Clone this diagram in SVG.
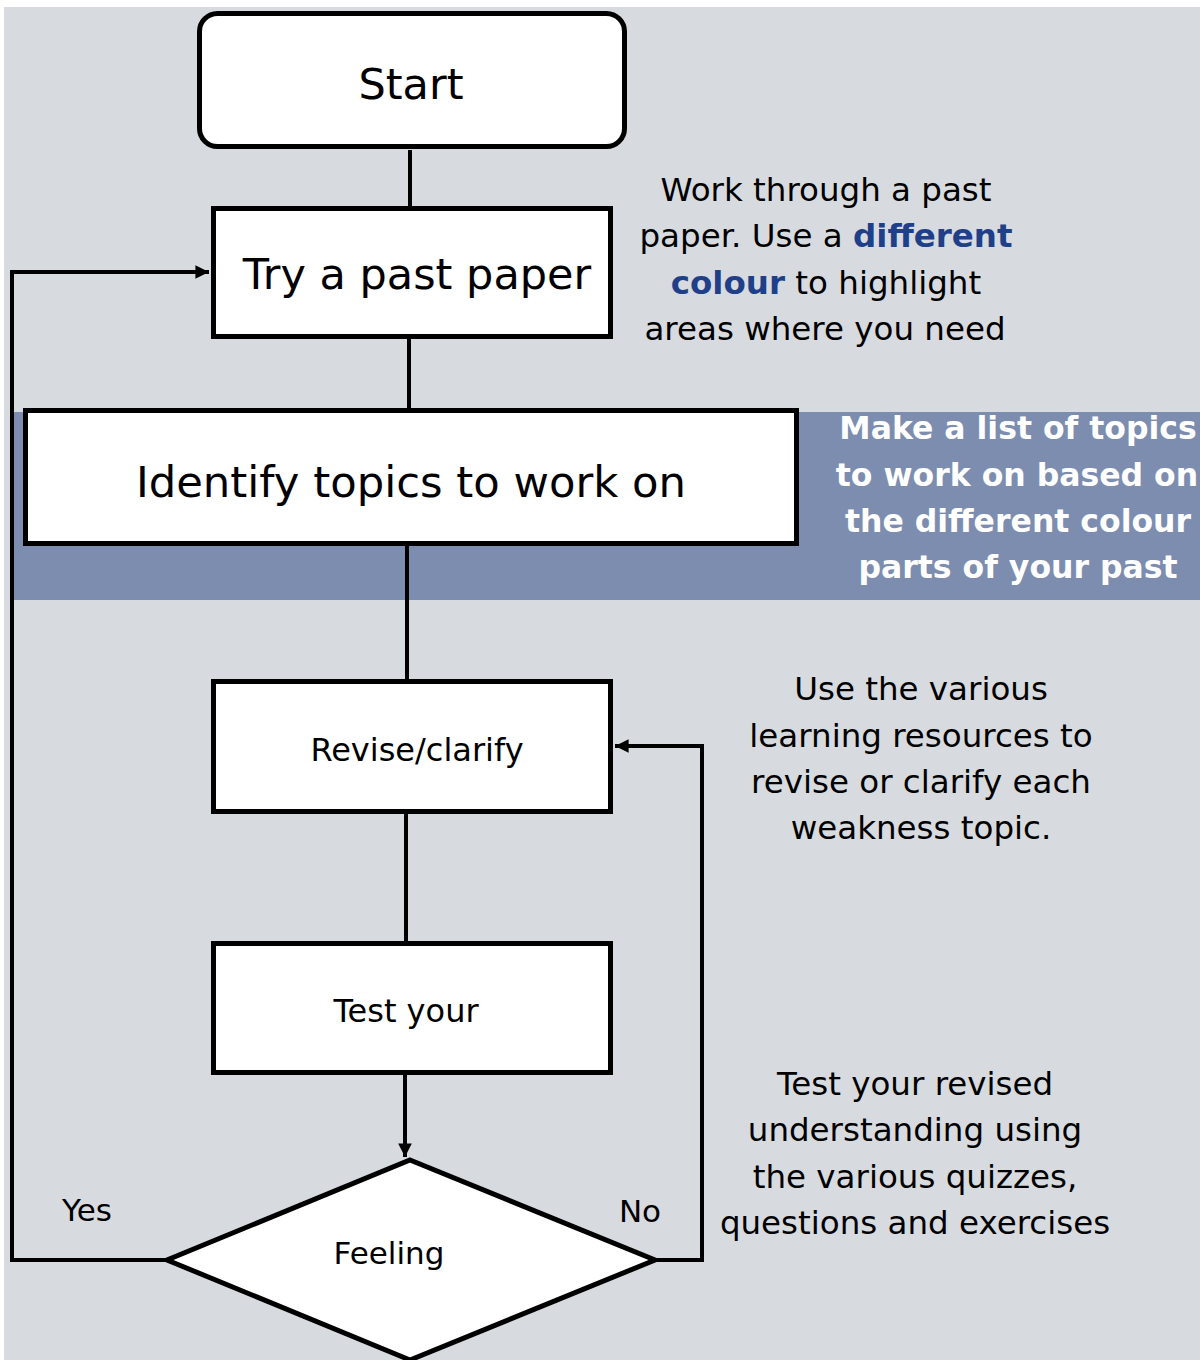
<svg xmlns="http://www.w3.org/2000/svg" width="1200" height="1360" viewBox="0 0 1200 1360">
<defs>
<style>
.box{fill:#ffffff;stroke:#000000;stroke-width:5}
.con{fill:none;stroke:#000000;stroke-width:4}
.t{font-family:"DejaVu Sans","Liberation Sans",sans-serif;fill:#000000;text-anchor:middle}
.note{font-family:"DejaVu Sans","Liberation Sans",sans-serif;font-size:32.5px;fill:#000000;text-anchor:middle}
.band{font-family:"DejaVu Sans","Liberation Sans",sans-serif;font-size:31.5px;font-weight:bold;fill:#ffffff;text-anchor:middle}
.hl{font-weight:bold;fill:#1f3f88}
</style>
<marker id="arr" viewBox="0 0 10 10" refX="10" refY="5" markerWidth="4" markerHeight="3.4" markerUnits="strokeWidth" orient="auto">
<path d="M0,0 L10,5 L0,10 Z" fill="#000000"/>
</marker>
</defs>
<rect x="0" y="0" width="1200" height="1360" fill="#ffffff"/>
<rect x="4" y="7" width="1196" height="1353" fill="#d7dbdf"/>
<rect x="14" y="412" width="1186" height="188" fill="#7d8db0"/>

<g id="connectors">
<line class="con" x1="410" y1="150" x2="410" y2="207"/>
<line class="con" x1="409" y1="338" x2="409" y2="410"/>
<line class="con" x1="407" y1="545" x2="407" y2="682"/>
<line class="con" x1="406" y1="812" x2="406" y2="942"/>
<line class="con" x1="405" y1="1074" x2="405" y2="1157" marker-end="url(#arr)"/>
<polyline class="con" points="167,1260 12,1260 12,272 209,272" marker-end="url(#arr)"/>
<polyline class="con" points="655,1260 702,1260 702,746 615,746" marker-end="url(#arr)"/>
</g>

<g id="start">
<rect class="box" x="199.5" y="13.5" width="425" height="133" rx="18" ry="18"/>
<text class="t" x="411" y="99" font-size="43">Start</text>
</g>

<g id="try">
<rect class="box" x="213.5" y="208.5" width="397" height="128"/>
<text class="t" x="417" y="289" font-size="43">Try a past paper</text>
</g>

<g id="identify">
<rect class="box" x="25.5" y="410.5" width="771" height="133"/>
<text class="t" x="411" y="497" font-size="43.3">Identify topics to work on</text>
</g>

<g id="revise">
<rect class="box" x="213.5" y="681.5" width="397" height="130"/>
<text class="t" x="417" y="761" font-size="32">Revise/clarify</text>
</g>

<g id="test">
<rect class="box" x="213.5" y="943.5" width="397" height="129"/>
<text class="t" x="406" y="1022" font-size="32">Test your</text>
</g>

<g id="feeling">
<polygon class="box" points="410,1160 655,1260 410,1360 167,1260"/>
<text class="t" x="389" y="1264" font-size="31">Feeling</text>
</g>

<g id="labels">
<text class="t" x="87" y="1221" font-size="31">Yes</text>
<text class="t" x="640" y="1222" font-size="31">No</text>
</g>

<g id="note1">
<text class="note" x="826" y="201">Work through a past</text>
<text class="note" x="826" y="247">paper. Use a <tspan class="hl">different</tspan></text>
<text class="note" x="826" y="294"><tspan class="hl">colour</tspan> to highlight</text>
<text class="note" x="825" y="340">areas where you need</text>
</g>

<g id="note2">
<text class="band" x="1018" y="439">Make a list of topics</text>
<text class="band" x="1017" y="486">to work on based on</text>
<text class="band" x="1018" y="532">the different colour</text>
<text class="band" x="1018" y="578">parts of your past</text>
</g>

<g id="note3">
<text class="note" x="921" y="700">Use the various</text>
<text class="note" x="921" y="747">learning resources to</text>
<text class="note" x="921" y="793">revise or clarify each</text>
<text class="note" x="921" y="839">weakness topic.</text>
</g>

<g id="note4">
<text class="note" x="915" y="1095">Test your revised</text>
<text class="note" x="915" y="1141">understanding using</text>
<text class="note" x="915" y="1188">the various quizzes,</text>
<text class="note" x="915" y="1234">questions and exercises</text>
</g>
</svg>
